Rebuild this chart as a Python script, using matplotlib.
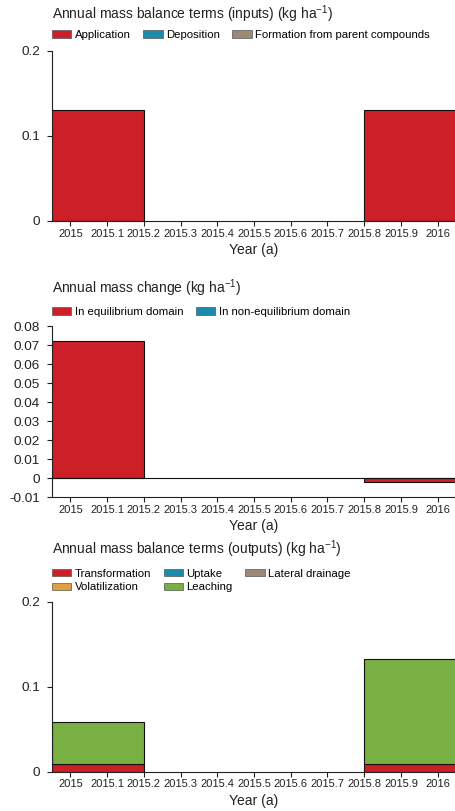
import numpy as np
import matplotlib

matplotlib.use("Agg")
import matplotlib.pyplot as plt
from matplotlib.patches import Patch

plt.rcParams["font.family"] = ["Liberation Sans", "DejaVu Sans"]
plt.rcParams["mathtext.default"] = "regular"
plt.rcParams["axes.unicode_minus"] = False

# data
years = [2015, 2016]
xtick_values = [2015.0, 2015.1, 2015.2, 2015.3, 2015.4, 2015.5, 2015.6, 2015.7, 2015.8, 2015.9, 2016.0]
xtick_labels = ["2015", "2015.1", "2015.2", "2015.3", "2015.4", "2015.5",
                "2015.6", "2015.7", "2015.8", "2015.9", "2016"]

input_names = ["Application", "Deposition", "Formation from parent compounds"]
application = [0.13, 0.13]
deposition = [0.0, 0.0]
formation = [0.0, 0.0]

change_names = ["In equilibrium domain", "In non-equilibrium domain"]
equilibrium = [0.072, -0.002]
non_equilibrium = [0.0, 0.0]

output_names = ["Transformation", "Uptake", "Lateral drainage", "Volatilization", "Leaching"]
transformation = [0.009, 0.009]
uptake = [0.0, 0.0]
lateral_drainage = [0.0, 0.0]
volatilization = [0.0, 0.0]
leaching = [0.049, 0.124]

inputs_ticks = [0, 0.1, 0.2]
change_ticks = [-0.01, 0, 0.01, 0.02, 0.03, 0.04, 0.05, 0.06, 0.07, 0.08]
outputs_ticks = [0, 0.1, 0.2]

RED = "#cc1f27"
TEAL = "#1a8bab"
BROWN = "#9c8a76"
ORANGE = "#e0a040"
GREEN = "#7aaf43"

W, H = 456, 811
fig = plt.figure(figsize=(W / 100, H / 100), dpi=100)

# bars sit against the axis edges: the 2015 bar grows right, the 2016 bar grows left
BAR_W = 0.25
EDGE = 0.05
bar_left = [years[0] - EDGE, years[1] + EDGE]
bar_width = [BAR_W, -BAR_W]


def make_axes(top_px, bottom_px):
    ax = fig.add_axes([52 / W, 1 - bottom_px / H, (W - 52) / W, (bottom_px - top_px) / H])
    for side in ("top", "right"):
        ax.spines[side].set_visible(False)
    for side in ("left", "bottom"):
        ax.spines[side].set_linewidth(0.8)
        ax.spines[side].set_color("#222222")
    ax.set_xlim(2014.95, 2016.05)
    ax.set_xticks(xtick_values)
    ax.set_xticklabels(xtick_labels, fontsize=8)
    ax.tick_params(axis="x", length=3.5, width=0.8, pad=2, colors="#222222")
    ax.tick_params(axis="y", length=3.5, width=0.8, pad=5, labelsize=9.7, colors="#222222")
    ax.set_xlabel("Year (a)", fontsize=10, labelpad=3, color="#222222")
    return ax


def stacked(ax, series, colors):
    bottom = np.zeros(len(years))
    for vals, col in zip(series, colors):
        vals = np.asarray(vals, dtype=float)
        if np.any(vals != 0):
            ax.bar(bar_left, vals, width=bar_width, bottom=bottom, align="edge",
                   color=col, edgecolor="#111111", linewidth=0.8)
        bottom = bottom + vals


def legend(ax, names, colors, y_px, ncol, spacing):
    handles = [Patch(facecolor=c, edgecolor="#555555", linewidth=0.5) for c in colors]
    ax.legend(handles, names, loc="center left", bbox_to_anchor=(52 / W, 1 - y_px / H),
              bbox_transform=fig.transFigure, ncol=ncol, frameon=False, fontsize=8.2,
              borderpad=0, borderaxespad=0, handlelength=1.7, handleheight=0.65,
              handletextpad=0.3, columnspacing=spacing, labelspacing=0.33)


def title(text, y_px):
    fig.text(52 / W, 1 - y_px / H, text, fontsize=10, va="center", ha="left", color="#222222")


# panel 1: inputs
ax1 = make_axes(50.7, 221)
stacked(ax1, [application, deposition, formation], [RED, TEAL, BROWN])
ax1.set_ylim(0, 0.2)
ax1.set_yticks(inputs_ticks)
ax1.set_yticklabels(["%g" % v for v in inputs_ticks])
title("Annual mass balance terms (inputs) (kg ha$^{-1}$)", 14)
legend(ax1, input_names, [RED, TEAL, BROWN], 35, 3, 1.1)

# panel 2: mass change
ax2 = make_axes(326, 497)
stacked(ax2, [equilibrium, non_equilibrium], [RED, TEAL])
ax2.axhline(0, color="#111111", linewidth=0.8, zorder=1)
ax2.set_ylim(-0.01, 0.08)
ax2.set_yticks(change_ticks)
ax2.set_yticklabels(["%g" % v for v in change_ticks])
title("Annual mass change (kg ha$^{-1}$)", 288)
legend(ax2, change_names, [RED, TEAL], 312, 2, 1.1)

# panel 3: outputs
ax3 = make_axes(601.7, 771.7)
stacked(ax3, [transformation, uptake, lateral_drainage, volatilization, leaching],
        [RED, TEAL, BROWN, ORANGE, GREEN])
ax3.set_ylim(0, 0.2)
ax3.set_yticks(outputs_ticks)
ax3.set_yticklabels(["%g" % v for v in outputs_ticks])
title("Annual mass balance terms (outputs) (kg ha$^{-1}$)", 549)
# legend is filled row by row: Transformation, Uptake, Lateral drainage / Volatilization, Leaching
order = [0, 3, 1, 4, 2]
out_colors = [RED, TEAL, BROWN, ORANGE, GREEN]
legend(ax3, [output_names[i] for i in order], [out_colors[i] for i in order], 580.5, 3, 1.1)

fig.savefig("out.png", dpi=100)
